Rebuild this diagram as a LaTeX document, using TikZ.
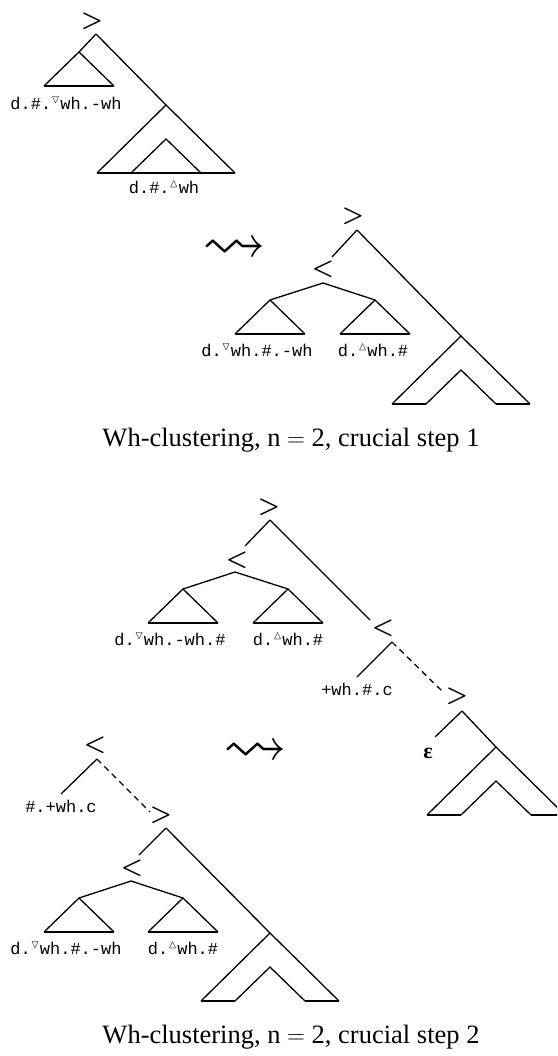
\documentclass[tikz,border=0pt]{standalone}
\usepackage{amsmath}
\usepackage{amssymb}
\usepackage{fontspec}
\usepackage{tikz}
\usetikzlibrary{positioning}
\newfontfamily\lblfont{Liberation Mono}
\newfontfamily\capfont{Liberation Serif}
\definecolor{ink}{HTML}{000000}
\tikzset{
    edge/.style={draw=ink, line width=1.3pt},
    basebar/.style={draw=ink, line width=2.4pt},
    movedash/.style={draw=ink, line width=1.3pt, dash pattern=on 6pt off 4.5pt},
    headsym/.style={inner sep=0pt, font=\fontsize{30}{30}\selectfont\boldmath, text=ink},
    leaflbl/.style={inner sep=0pt, font=\lblfont\fontsize{17}{17}\selectfont, text=ink},
    caption/.style={inner sep=0pt, font=\capfont\fontsize{26.5}{26.5}\selectfont, text=ink},
    wavy/.style={inner sep=0pt, font=\fontsize{64}{64}\selectfont, text=ink}
}
% closed triangle hanging under a coordinate
\newcommand{\subtri}[1]{%
    \draw[edge] ([shift={(-35,34)}]#1) -- (#1) -- ([shift={(35,34)}]#1);
    \draw[basebar] ([shift={(-35,34)}]#1) -- ([shift={(35,34)}]#1);}
% big triangle with the inner hat
\newcommand{\hattri}[1]{%
    \draw[edge] ([shift={(-69,68)}]#1) -- (#1) -- ([shift={(69,68)}]#1);
    \draw[edge] ([shift={(-35,68)}]#1) -- ([shift={(0,34)}]#1) -- ([shift={(35,68)}]#1);
    \draw[basebar] ([shift={(-69,68)}]#1) -- ([shift={(-35,68)}]#1);
    \draw[basebar] ([shift={(35,68)}]#1) -- ([shift={(69,68)}]#1);}

\begin{document}
\begin{tikzpicture}[x=1pt, y=-1pt]
        \useasboundingbox (0,0) rectangle (557,1056);
        \clip (0,0) rectangle (557,1056);

        % step 1, before
        \node[headsym] (gtA) at (92,21) {$>$};
        \coordinate (rA) at (96,34);
        \coordinate (lA) at (79,52);
        \coordinate (sA) at (166,105);
        \draw[edge] (rA) -- (lA);
        \draw[edge] (rA) -- (sA);
        \subtri{lA}
        \hattri{sA}
        \draw[basebar] ([shift={(-35,68)}]sA) -- ([shift={(35,68)}]sA); % closed inner base
        \node[leaflbl] (wA1) at (66,103) {d.\#.$^{\triangledown}$wh.-wh};
        \node[leaflbl] (wA2) at (164,187) {d.\#.$^{\vartriangle}$wh};

        \node[wavy] (leadA) at (234,250) {$\leadsto$};

        % step 1, after
        \node[headsym] (gtB) at (353,216) {$>$};
        \coordinate (rB) at (357,230);
        \coordinate (lB) at (332,257);
        \node[headsym] (ltB) at (323,269) {$<$};
        \coordinate (cB) at (323,283);
        \coordinate (tB1) at (270,300);
        \coordinate (tB2) at (375,300);
        \coordinate (sB) at (461,336);
        \draw[edge] (rB) -- (lB);
        \draw[edge] (rB) -- (sB);
        \draw[edge] (tB1) -- (cB) -- (tB2);
        \subtri{tB1}
        \subtri{tB2}
        \hattri{sB}
        \node[leaflbl] (wB1) at (257,350) {d.$^{\triangledown}$wh.\#.-wh};
        \node[leaflbl] (wB2) at (373,350) {d.$^{\vartriangle}$wh.\#};

        \node[caption] (capA) at (291,440) {Wh-clustering, n $=$ 2, crucial step 1};

        % step 2, before
        \node[headsym] (gtC) at (269,507) {$>$};
        \coordinate (rC) at (270,520);
        \coordinate (lC) at (245,546);
        \node[headsym] (ltC) at (237,560) {$<$};
        \coordinate (cC) at (235,572);
        \coordinate (tC1) at (183,589);
        \coordinate (tC2) at (288,589);
        \draw[edge] (rC) -- (lC);
        \draw[edge] (tC1) -- (cC) -- (tC2);
        \subtri{tC1}
        \subtri{tC2}
        \node[leaflbl] (wC1) at (170,639) {d.$^{\triangledown}$wh.-wh.\#};
        \node[leaflbl] (wC2) at (288,639) {d.$^{\vartriangle}$wh.\#};
        \coordinate (mC) at (370,620);
        \node[headsym] (ltC2) at (383,628) {$<$};
        \coordinate (dC) at (392,642);
        \coordinate (hC) at (357,677);
        \coordinate (jC) at (443,692);
        \draw[edge] (rC) -- (mC);
        \draw[edge] (dC) -- (hC);
        \draw[movedash] (dC) -- (jC);
        \node[leaflbl] (wC3) at (357,689) {+wh.\#.c};
        \node[headsym] (gtC2) at (457,696) {$>$};
        \coordinate (eC) at (462,711);
        \coordinate (qC) at (435,737);
        \coordinate (sC) at (496,747);
        \draw[edge] (eC) -- (qC);
        \draw[edge] (eC) -- (sC);
        \node[inner sep=0pt, font=\capfont\bfseries\fontsize{22}{22}\selectfont] (epsC) at (428,753) {ε};
        \hattri{sC}

        \node[wavy] (leadB) at (255,753) {$\leadsto$};

        % step 2, after
        \node[headsym] (ltD) at (95,745) {$<$};
        \coordinate (fD) at (97,759);
        \coordinate (hD) at (61,794);
        \coordinate (jD) at (150,812);
        \draw[edge] (fD) -- (hD);
        \draw[movedash] (fD) -- (jD);
        \node[leaflbl] (wD3) at (61,806) {\#.+wh.c};
        \node[headsym] (gtD) at (161,815) {$>$};
        \coordinate (gD) at (166,828);
        \coordinate (lD) at (139,855);
        \node[headsym] (ltD2) at (132,868) {$<$};
        \coordinate (kD) at (131,881);
        \coordinate (tD1) at (79,898);
        \coordinate (tD2) at (183,898);
        \coordinate (sD) at (270,933);
        \draw[edge] (gD) -- (lD);
        \draw[edge] (gD) -- (sD);
        \draw[edge] (tD1) -- (kD) -- (tD2);
        \subtri{tD1}
        \subtri{tD2}
        \hattri{sD}
        \node[leaflbl] (wD1) at (66,948) {d.$^{\triangledown}$wh.\#.-wh};
        \node[leaflbl] (wD2) at (183,948) {d.$^{\vartriangle}$wh.\#};

        \node[caption] (capB) at (291,1037) {Wh-clustering, n $=$ 2, crucial step 2};
\end{tikzpicture}
\end{document}
